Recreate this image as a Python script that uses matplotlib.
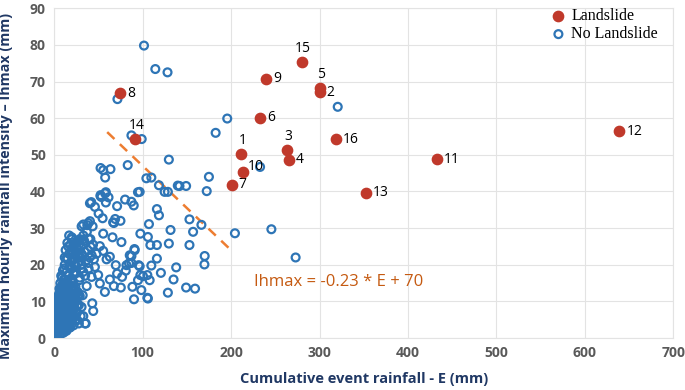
import matplotlib
matplotlib.use("Agg")
import matplotlib.pyplot as plt

# ---------------------------------------------------------------------
# DATA: landslide events (cumulative rainfall E, max hourly intensity)
# ---------------------------------------------------------------------

ls_id = ["1", "2", "3", "4", "5", "6", "7", "8", "9", "10",
         "11", "12", "13", "14", "15", "16"]
ls_e = [211.5, 300, 262.8, 265, 300.7, 233, 201, 75, 240, 213.7,
        432.7, 639, 352.8, 91.5, 280, 319]
ls_i = [50.1, 67.1, 51.3, 48.6, 68.1, 60.1, 41.8, 66.8, 70.7, 45.4,
        48.8, 56.5, 39.7, 54.3, 75.2, 54.2]

# label placement: "r" = right of the dot, "t" = above it, "tr" = above right
ls_pos = ["t", "r", "t", "r", "t", "r", "r", "r", "r", "tr",
          "r", "r", "r", "t", "t", "r"]

# no-landslide events
no_e = [
    # dense cluster near origin
    0.5, 1, 1.5, 2, 2, 2.5, 3, 3, 3.5, 4, 4, 4.5, 5, 5, 5.5, 6, 6, 6.5, 7, 7,
    7.5, 8, 8, 8.5, 9, 9, 9.5, 10, 10, 10.5, 11, 11, 12, 12, 12.5, 13, 13.5,
    14, 14, 15, 15, 15.5, 16, 16.5, 17, 17.5, 18, 18, 19, 19.5, 20, 20, 21,
    21.5, 22, 22.5, 23, 24, 24, 25, 26, 27, 28, 28, 29, 30, 31, 33, 35,
    36.8, 27.3, 32.3, 26.2, 18, 44.2, 43.1, 35.7,
    1, 1.5, 2.5, 3, 3.5, 4, 4.5, 5, 5.5, 6, 6.5, 7, 7.5, 8, 8.5, 9, 9.5,
    10, 10.5, 11, 11.5, 12, 12.5, 13, 13.5, 14, 14.5, 15, 16, 17, 18, 19,
    20, 21, 22, 23, 2, 3, 4, 5, 6, 7, 8, 9, 10, 11, 12, 13, 14, 15, 16, 17,
    18, 19, 20, 22, 24, 26, 1.2, 2.8, 4.2, 5.8, 7.2, 8.8, 10.2, 11.8, 13.2,
    14.8, 16.2, 17.8, 19.2, 21, 23, 25, 6.8, 9.2, 12.8, 3.8, 5.2,
    0.8, 1.3, 1.8, 2.3, 2.8, 3.3, 3.8, 4.3, 4.8, 5.3, 5.8, 6.3, 6.8, 7.3,
    7.8, 8.3, 8.8, 9.3, 9.8, 10.3, 10.8, 11.3, 11.8, 12.3, 12.8, 13.3, 14.3,
    15.3, 16.3, 17.3, 18.3, 19.3, 3.2, 4.7, 6.2, 7.7, 9.2, 10.7, 12.2, 13.7,
    15.2, 16.7, 18.2, 20.5, 22.5, 24.5, 2.2, 5.1, 8.1, 11.1,
    # middle band
    6, 7, 8, 9, 10, 11, 12, 13, 14, 15, 16, 17, 18, 19, 20, 21, 22, 23, 24,
    25, 26, 27, 28, 29, 30, 31, 32, 33, 34, 35, 36.8, 38, 39, 40, 42.4, 42.4,
    44, 46.1, 48, 49.8, 51.7, 55.5, 57.4, 59.3, 63, 63, 67.5, 69.7, 71.2,
    75.4, 76.8, 81, 84.7, 87.4, 91.1, 95.6, 97.5, 105.4, 108, 98.6, 90.3,
    105.4, 128.6, 149.2, 159.3, 135, 120.7, 138, 109.9, 116.2, 96.7, 81.8,
    85.5, 87.4, 100.5, 94.8, 88.5, 106, 28.5,
    9, 11.5, 14.5, 17.5, 22.5, 26.5, 30.5, 34.5, 38.5, 12, 16, 20, 24, 33,
    37, 41, 45,
    # upper band
    13, 15, 17, 18.5, 20, 21.7, 21.7, 24.7, 19.9, 25.5, 28.5, 29.2, 31.1,
    33, 37.5, 38.6, 40.5, 43.5, 39, 41.2, 51.7, 55.5, 66, 76.1, 67.5, 75,
    66.7, 69, 54.8, 50.3, 46.1, 42, 40.5, 53.6, 58.5, 61.5, 57.7, 52.5,
    71.2, 80.2, 87.4, 90, 94.8, 97.5, 106, 107.2, 108.8, 116.2, 129.7,
    131.6, 153, 157.1, 166.5, 153, 116.2, 118.5, 90.8, 26, 29, 32, 28,
    19, 23, 27, 31,
    # 40-50 mm/h group
    52.5, 55.5, 63.7, 57.7, 83.2, 52.5, 58.5,
    # scattered outliers
    101.6, 114.4, 128.2, 71.6, 195.7, 182.6, 87.4, 99, 129.7, 320.6, 175,
    172.5, 149.2, 141.7, 232.8, 104.3, 109.9, 118.5, 124.9, 128.6, 139.8,
    96.7, 204.4, 245.6, 273, 170.2, 169.9,
]
no_i = [
    # dense cluster near origin
    0.3, 0.8, 1.5, 0.5, 2.2, 3, 1.2, 4, 2.5, 5, 1.8, 3.5, 6, 2.5, 4.5, 7.2, 3,
    5.5, 8.5, 2, 4, 6.5, 10, 3, 5, 8, 11.5, 2.5, 4, 7, 9.5, 12.5, 3.5, 6,
    8.5, 11, 5, 13.5, 2, 7.5, 10, 4, 12, 6, 9, 14.5, 3, 11, 5, 8, 13, 15.5,
    6.5, 10, 3.5, 12, 8, 5, 14, 10.5, 7, 12.5, 4, 9, 11.5, 6, 8.5, 6, 4,
    14.2, 11.7, 11.7, 4.9, 2.9, 7.4, 9.5, 4,
    2, 0.8, 1.5, 5.5, 6.5, 7.5, 8, 9, 10, 11, 12, 1, 13, 14, 1.5, 12.5, 6.5,
    15, 13.5, 5, 14.5, 10, 16, 2.5, 9.5, 7, 12, 15.5, 3, 11.5, 8, 13.5,
    10.5, 15, 14, 13, 3.5, 2, 3, 4, 5, 6, 2.5, 3.5, 5.5, 3, 7.5, 6.5, 9,
    4.5, 7.5, 5, 6.5, 9.5, 7, 8.5, 11, 9, 1.8, 4.8, 7.8, 9.5, 10.8, 12.2,
    13.8, 12.8, 8.2, 9.8, 11.2, 12.5, 13.5, 12, 10.8, 12.5, 11, 12.8, 14.2,
    7, 8.8,
    1.2, 2.6, 3.8, 4.5, 6, 7, 8.2, 9.4, 10.6, 11.8, 9, 2, 10.5, 12.8, 3.2,
    11.2, 4.6, 13, 5.8, 9.2, 2.4, 7.4, 11, 4, 9.6, 6.4, 8, 5.4, 9.8, 4.6,
    6.8, 10.2, 8.8, 11.2, 12.4, 13.4, 14, 1.5, 3.2, 4.4, 2.6, 6, 7.2, 5.4,
    8.4, 7.4, 9.8, 10.4, 8.6, 11.6,
    # middle band
    13.5, 15, 17, 14, 18.5, 16, 20, 15, 18, 21.5, 17, 23, 19, 16, 21, 24.5,
    17.5, 20, 22.5, 18, 26, 20.5, 23, 16.5, 25, 20, 22.5, 18.1, 26.5, 17,
    21.3, 24, 19, 22, 22.6, 16.7, 25.5, 19.4, 23, 17.2, 14.9, 23.8, 12.6,
    21.5, 22.2, 16, 14.2, 19.9, 17.6, 13.8, 16.7, 18.4, 20.4, 22.4, 24,
    19.9, 17.2, 17.2, 15.8, 13.1, 10.6, 11, 12.4, 13.8, 13.5, 16, 17.8,
    19.3, 19.8, 21.7, 19.6, 19.9, 22.6, 20.5, 16.9, 15.8, 14, 10.8, 15.8,
    16.5, 19, 22, 20, 18, 22.5, 19, 23.5, 20.5, 22, 25, 27.5, 23, 28, 29,
    27, 21.5,
    # upper band
    24, 26, 28, 25.5, 27, 21.7, 25.4, 19.6, 19, 26.3, 26.7, 22, 30.5, 31,
    30.8, 31.4, 31.9, 30.5, 27.1, 24.9, 25.1, 28.5, 27.5, 26.2, 31.4, 32,
    31.6, 32.5, 32.7, 34, 35.8, 37.1, 36.8, 38.5, 37, 38.4, 39.5, 38.7, 36,
    37.8, 37.2, 36.2, 39.8, 28.5, 27.6, 31.1, 25.4, 25.4, 25.8, 29.5, 25.4,
    29, 30.9, 32.4, 35.2, 33.5, 24.3, 26.5, 27, 26.8, 25.5, 24, 25.5, 24,
    23,
    # 40-50 mm/h group
    46.4, 45.8, 46.1, 43.8, 47.2, 39, 39.8,
    # scattered outliers
    79.8, 73.4, 72.5, 65.2, 59.9, 56, 55.3, 54.3, 48.7, 63.1, 44, 40.1,
    41.5, 41.5, 46.7, 43.6, 43.8, 41.7, 39.9, 39.9, 41.6, 39.9, 28.6, 29.7,
    22, 22.4, 20.1,
]

# threshold line Ihmax = -0.23 * E + 70, drawn between these E values
line_e = [60, 200]
line_i = [-0.23 * e + 70 for e in line_e]

x_ticks = list(range(0, 701, 100))
y_ticks = list(range(0, 91, 10))


# ---------------------------------------------------------------------
# PLOT
# ---------------------------------------------------------------------

fig = plt.figure(figsize=(6.85, 3.9), dpi=100)
ax = fig.add_axes([0.079, 0.133, 0.904, 0.846])

tick_font = "Open Sans"
grid_col = "#e3e3e3"

# hollow circles (no fill) so overlapping rings pile up like the original
ax.scatter(no_e, no_i, s=32, facecolors="none", edgecolors="#2e75b6",
           linewidths=1.6, zorder=3, label="No Landslide")
ax.scatter(ls_e, ls_i, s=55, color="#c0392b", zorder=4, label="Landslide")

ax.plot(line_e, line_i, color="#ed7d31", lw=1.8, ls=(0, (4, 3)), zorder=2)
ax.text(226, 15.4, "Ihmax = -0.23 * E + 70", color="#c55a11",
        fontsize=12, family=tick_font, va="center", ha="left")

for lab, e, i, p in zip(ls_id, ls_e, ls_i, ls_pos):
    if p == "r":
        ax.annotate(lab, (e, i), xytext=(5, 0), textcoords="offset points",
                    ha="left", va="center", fontsize=10, family=tick_font)
    elif p == "t":
        ax.annotate(lab, (e, i), xytext=(1, 10), textcoords="offset points",
                    ha="center", va="center", fontsize=10, family=tick_font)
    else:
        ax.annotate(lab, (e, i), xytext=(3, 4), textcoords="offset points",
                    ha="left", va="center", fontsize=10, family=tick_font)

ax.set_xlim(0, 700)
ax.set_ylim(0, 90)
ax.set_xticks(x_ticks)
ax.set_yticks(y_ticks)
ax.grid(True, color=grid_col, lw=0.8, zorder=0)
ax.set_axisbelow(True)
for sp in ax.spines.values():
    sp.set_color(grid_col)
    sp.set_linewidth(0.8)
ax.tick_params(length=0, pad=6, labelcolor="#595959", labelsize=10)
for t in ax.get_xticklabels() + ax.get_yticklabels():
    t.set_family(tick_font)
    t.set_fontweight("bold")

ax.set_xlabel("Cumulative event rainfall - E (mm)", color="#203864",
              fontsize=10.5, fontweight="bold", family=tick_font, labelpad=8)
ax.set_ylabel("Maximum hourly rainfall intensity \u2013 Ihmax (mm)",
              color="#203864", fontsize=10.3, fontweight="bold",
              family=tick_font)
ax.yaxis.set_label_coords(-0.066, 0.46)

handles, labels = ax.get_legend_handles_labels()
ax.legend(handles[::-1], labels[::-1], loc="upper left",
          bbox_to_anchor=(0.786, 1.025), frameon=False, borderpad=0,
          handletextpad=0.2, labelspacing=0.15, handlelength=1.2,
          prop={"family": "Liberation Serif", "size": 11.5})

fig.savefig("out.png", dpi=100)
